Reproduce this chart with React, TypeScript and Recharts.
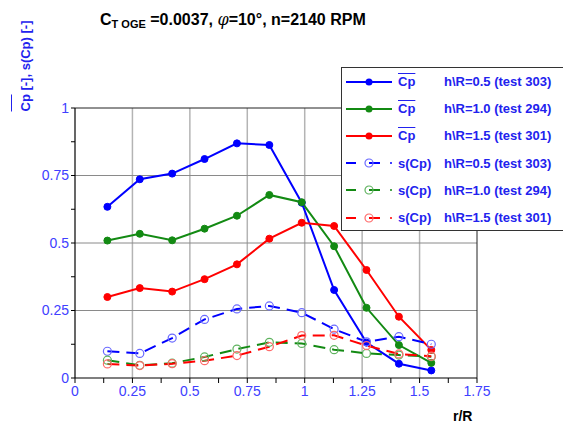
import React from 'react';
import { LineChart, Line, XAxis, YAxis, ReferenceLine } from 'recharts';

const rR = [0.141, 0.282, 0.423, 0.564, 0.705, 0.846, 0.987, 1.128, 1.269, 1.41, 1.551];
const cpMean05 = [0.634, 0.736, 0.757, 0.811, 0.869, 0.863, 0.649, 0.326, 0.131, 0.053, 0.028];
const cpMean10 = [0.509, 0.534, 0.51, 0.553, 0.601, 0.678, 0.651, 0.488, 0.26, 0.122, 0.056];
const cpMean15 = [0.3, 0.333, 0.32, 0.366, 0.421, 0.516, 0.575, 0.563, 0.4, 0.227, 0.104];
const sCp05 = [0.099, 0.091, 0.148, 0.217, 0.256, 0.267, 0.242, 0.181, 0.134, 0.153, 0.125];
const sCp10 = [0.066, 0.047, 0.055, 0.078, 0.107, 0.132, 0.128, 0.105, 0.091, 0.085, 0.079];
const sCp15 = [0.052, 0.046, 0.053, 0.064, 0.083, 0.116, 0.157, 0.158, 0.12, 0.089, 0.081];

const xTicks = [0, 0.125, 0.25, 0.375, 0.5, 0.625, 0.75, 0.875, 1, 1.125, 1.25, 1.375, 1.5, 1.625, 1.75];
const yTicks = [0, 0.125, 0.25, 0.375, 0.5, 0.625, 0.75, 0.875, 1];
const xGrid = [0.25, 0.5, 0.75, 1, 1.25, 1.5];
const yGrid = [0.25, 0.5, 0.75];

const legendLabels = [
  'h\\R=0.5 (test 303)',
  'h\\R=1.0 (test 294)',
  'h\\R=1.5 (test 301)',
  'h\\R=0.5 (test 303)',
  'h\\R=1.0 (test 294)',
  'h\\R=1.5 (test 301)',
];

const data = rR.map((r, i) => ({
  r,
  m05: cpMean05[i],
  m10: cpMean10[i],
  m15: cpMean15[i],
  s05: sCp05[i],
  s10: sCp10[i],
  s15: sCp15[i],
}));

const series = [
  { key: 'm05', color: '#0000ff', light: '#0000ff', dashed: false, label: legendLabels[0] },
  { key: 'm10', color: '#138a13', light: '#138a13', dashed: false, label: legendLabels[1] },
  { key: 'm15', color: '#ff0000', light: '#ff0000', dashed: false, label: legendLabels[2] },
  { key: 's05', color: '#0000ff', light: '#6a6aff', dashed: true, label: legendLabels[3] },
  { key: 's10', color: '#138a13', light: '#5fb35f', dashed: true, label: legendLabels[4] },
  { key: 's15', color: '#ff0000', light: '#ff6a6a', dashed: true, label: legendLabels[5] },
];

const FONT = '"Liberation Sans", Arial, sans-serif';
const TICK_BLUE = '#4040ff';
const TEXT_BLUE = '#2222ee';

const fmt = (v: number) => (Math.abs(v * 4 - Math.round(v * 4)) < 1e-9 ? String(v) : '');

export default function App() {
  return (
    <div style={{ position: 'absolute', left: 0, top: 0, width: 563, height: 423, overflow: 'hidden', background: '#fff', fontFamily: FONT }}>
      <LineChart width={563} height={423} data={data} margin={{ top: 108, right: 86, left: 0, bottom: 0 }}>
        <XAxis
          dataKey="r"
          type="number"
          domain={[0, 1.75]}
          ticks={xTicks}
          interval={0}
          tickFormatter={fmt}
          height={45}
          axisLine={{ stroke: '#000', strokeWidth: 1.2 }}
          tickLine={{ stroke: '#000' }}
          tickSize={5}
          tickMargin={3}
          tick={{ fill: TICK_BLUE, fontSize: 14, fontFamily: FONT }}
        />
        <YAxis
          type="number"
          domain={[0, 1]}
          ticks={yTicks}
          interval={0}
          tickFormatter={fmt}
          width={75}
          axisLine={{ stroke: '#000', strokeWidth: 1.2 }}
          tickLine={{ stroke: '#000' }}
          tickSize={4}
          tickMargin={2}
          tick={{ fill: TICK_BLUE, fontSize: 14, fontFamily: FONT }}
        />
        {xGrid.map((v) => (
          <ReferenceLine key={'x' + v} x={v} stroke="#b4b4b4" strokeWidth={1.5} />
        ))}
        {yGrid.map((v) => (
          <ReferenceLine key={'y' + v} y={v} stroke="#8a8a8a" strokeWidth={1} />
        ))}
        <ReferenceLine y={1} stroke="#222" strokeWidth={1} />
        <ReferenceLine x={1.75} stroke="#222" strokeWidth={1} />
        {series.map((s) => (
          <Line
            key={s.key}
            dataKey={s.key}
            type="linear"
            stroke={s.color}
            strokeWidth={2}
            strokeDasharray={s.dashed ? '12 7' : undefined}
            dot={
              s.dashed
                ? { r: 4, fill: 'none', stroke: s.light, strokeWidth: 1.2, strokeDasharray: '' }
                : { r: 3.5, fill: s.color, stroke: s.color, strokeWidth: 1 }
            }
            isAnimationActive={false}
          />
        ))}
      </LineChart>

      {/* Title */}
      <div style={{ position: 'absolute', left: 100, top: 10, fontSize: 16, fontWeight: 'bold', color: '#000', whiteSpace: 'nowrap' }}>
        C<sub style={{ fontSize: 11, verticalAlign: 'baseline', position: 'relative', top: 3 }}>T OGE</sub> =0.0037,{' '}
        <span style={{ fontStyle: 'italic', fontFamily: '"DejaVu Serif", serif', fontWeight: 'normal' }}>φ</span>=10°, n=2140 RPM
      </div>

      {/* Y axis label */}
      <div
        style={{
          position: 'absolute',
          left: 22,
          top: 66,
          transform: 'translate(-50%, -50%) rotate(-90deg)',
          whiteSpace: 'nowrap',
          fontSize: 13,
          fontWeight: 'bold',
          color: TEXT_BLUE,
          lineHeight: '15px',
        }}
      >
        <span style={{ display: 'inline-block', borderTop: '1.5px solid ' + TEXT_BLUE, paddingTop: 7, lineHeight: '13px' }}>Cp</span> [-], s(Cp) [-]
      </div>

      {/* X axis label */}
      <div style={{ position: 'absolute', left: 453, top: 408, fontSize: 14, fontWeight: 'bold', color: '#000' }}>r/R</div>

      {/* Legend */}
      <div
        style={{
          position: 'absolute',
          left: 341,
          top: 67,
          width: 240,
          height: 164,
          border: '1px solid #333',
          background: '#fff',
          boxSizing: 'border-box',
        }}
      >
        {series.map((s) => (
          <div key={s.key} style={{ display: 'flex', alignItems: 'center', height: 27.2, paddingLeft: 3 }}>
            <svg width={48} height={12} style={{ display: 'block' }}>
              {s.dashed ? (
                <g>
                  <line x1={1} y1={6} x2={11} y2={6} stroke={s.color} strokeWidth={2} />
                  <line x1={24} y1={6} x2={35} y2={6} stroke={s.color} strokeWidth={2} />
                  <circle cx={24} cy={6} r={4} fill="none" stroke={s.light} strokeWidth={1.2} />
                  <circle cx={46} cy={6} r={1} fill={s.color} />
                </g>
              ) : (
                <g>
                  <line x1={1} y1={6} x2={47} y2={6} stroke={s.color} strokeWidth={2} />
                  <circle cx={24} cy={6} r={3.5} fill={s.color} />
                </g>
              )}
            </svg>
            <div style={{ width: 51, paddingLeft: 5, fontSize: 13, fontWeight: 'bold', color: TEXT_BLUE, whiteSpace: 'nowrap', boxSizing: 'border-box' }}>
              {s.dashed ? 's(Cp)' : <span style={{ textDecoration: 'overline' }}>Cp</span>}
            </div>
            <div style={{ fontSize: 13, fontWeight: 'bold', color: TEXT_BLUE, whiteSpace: 'nowrap' }}>{s.label}</div>
          </div>
        ))}
      </div>
    </div>
  );
}
